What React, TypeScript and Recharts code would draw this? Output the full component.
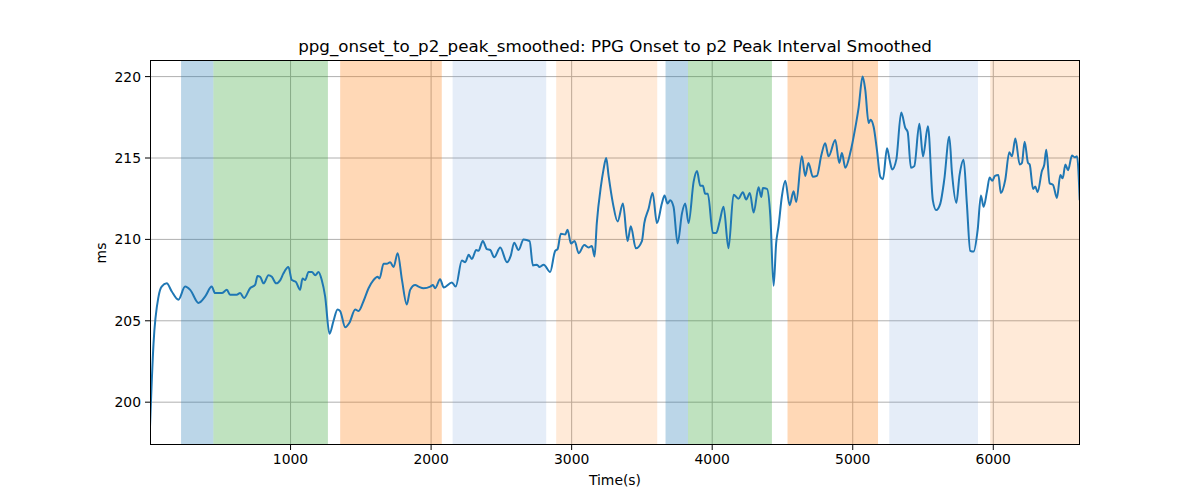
import { LineChart, Line, XAxis, YAxis, CartesianGrid, ReferenceArea } from "recharts";

// time axis (s) and smoothed onset->p2 interval (ms)
const times = [
  0, 25, 61, 83, 119, 155, 202, 250, 286, 345, 393, 439, 463, 511, 547, 570, 617, 641, 669, 712,
  748, 765, 784, 808, 843, 867, 898, 927, 949, 985, 1009, 1037, 1068, 1085, 1104, 1128, 1152, 1176, 1199, 1222,
  1246, 1277, 1306, 1334, 1353, 1389, 1420, 1460, 1484, 1519, 1555, 1590, 1619, 1633, 1662, 1685, 1709, 1733, 1762, 1793,
  1827, 1851, 1887, 1911, 1946, 1994, 2013, 2029, 2064, 2090, 2148, 2175, 2219, 2243, 2267, 2290, 2321, 2337, 2368, 2397,
  2421, 2449, 2492, 2540, 2567, 2591, 2622, 2658, 2701, 2724, 2753, 2772, 2801, 2847, 2883, 2900, 2923, 2954, 2971, 2995,
  3021, 3050, 3090, 3120, 3144, 3163, 3179, 3208, 3227, 3246, 3263, 3294, 3327, 3365, 3398, 3421, 3457, 3500, 3517, 3548,
  3576, 3607, 3642, 3661, 3682, 3701, 3725, 3754, 3785, 3808, 3832, 3868, 3892, 3915, 3934, 3950, 3969, 4005, 4029, 4053,
  4081, 4116, 4152, 4187, 4218, 4242, 4268, 4295, 4330, 4349, 4361, 4390, 4414, 4437, 4455, 4472, 4496, 4520, 4551, 4579,
  4598, 4638, 4662, 4685, 4716, 4745, 4776, 4804, 4828, 4876, 4904, 4923, 4947, 4982, 5018, 5042, 5070, 5089, 5113, 5127,
  5149, 5172, 5196, 5215, 5244, 5262, 5281, 5310, 5345, 5374, 5391, 5414, 5438, 5474, 5500, 5535, 5570, 5594, 5623, 5651,
  5687, 5706, 5737, 5760, 5789, 5812, 5836, 5860, 5889, 5912, 5931, 5955, 5974, 5993, 6012, 6036, 6054, 6085, 6114, 6133,
  6157, 6188, 6204, 6223, 6247, 6259, 6283, 6299, 6315, 6346, 6363, 6377, 6401, 6425, 6453, 6477, 6494, 6513, 6532, 6560,
  6579, 6596, 6615,
];

const values = [
  198.5, 203.6, 206.5, 207.1, 207.3, 206.8, 206.3, 207.1, 206.9, 206.1, 206.5, 207.1, 206.7, 206.7, 206.9, 206.6, 206.6, 206.7, 206.4, 207.0,
  207.2, 207.75, 207.7, 207.3, 207.8, 207.7, 207.3, 207.5, 207.9, 208.3, 207.5, 207.4, 206.9, 207.6, 207.5, 208.0, 208.0, 207.8, 208.0, 207.5,
  206.5, 204.2, 205.0, 205.7, 205.6, 204.6, 204.9, 205.7, 205.6, 206.2, 207.0, 207.5, 207.7, 207.6, 208.5, 208.5, 208.6, 208.3, 209.15, 207.5,
  206.0, 206.9, 207.2, 207.1, 207.0, 207.1, 207.2, 207.0, 207.55, 207.05, 207.35, 207.1, 208.7, 208.6, 209.05, 208.8, 209.35, 209.3, 209.9, 209.4,
  209.35, 208.9, 209.5, 208.6, 209.0, 209.8, 209.35, 210.0, 209.9, 208.4, 208.45, 208.3, 208.45, 208.0, 209.3, 209.4, 210.35, 210.3, 210.6, 209.75,
  209.9, 209.15, 209.65, 209.5, 209.6, 208.95, 211.0, 213.25, 214.3, 215.0, 213.9, 212.2, 211.1, 212.2, 209.9, 210.8, 209.45, 209.9, 211.0, 211.9,
  212.85, 211.0, 212.2, 212.7, 212.2, 212.4, 212.0, 209.75, 211.6, 212.2, 211.0, 213.55, 214.2, 213.3, 213.3, 212.8, 212.8, 210.4, 210.4, 211.1,
  212.0, 209.45, 212.75, 212.5, 212.9, 212.45, 212.85, 211.65, 213.2, 212.6, 213.15, 213.1, 211.4, 207.15, 209.75, 210.8, 212.65, 213.6, 212.1, 212.95,
  212.3, 215.1, 213.9, 214.7, 213.85, 213.9, 215.15, 215.9, 215.1, 216.1, 214.7, 215.3, 214.4, 215.3, 216.85, 218.1, 220.0, 219.2, 217.15, 217.35,
  216.9, 215.5, 213.85, 213.7, 215.6, 214.9, 214.3, 214.9, 217.8, 216.85, 216.6, 214.4, 214.5, 217.1, 215.1, 216.95, 212.4, 211.8, 212.2, 213.65,
  216.3, 214.1, 212.25, 213.95, 214.9, 212.2, 209.3, 209.25, 210.6, 212.7, 212.0, 212.95, 213.8, 213.6, 213.9, 213.95, 212.85, 213.65, 215.35, 215.1,
  216.2, 214.6, 214.7, 216.0, 214.7, 214.6, 213.1, 213.25, 212.9, 214.2, 214.6, 215.5, 213.45, 213.35, 212.55, 213.95, 213.75, 214.6, 214.25, 215.15,
  215.05, 215.1, 212.4,
];

// shaded phases
const bandStarts = [221, 451, 1353, 2153, 2890, 3668, 3828, 4536, 5260, 5978];
const bandEnds = [451, 1266, 2076, 2819, 3609, 3828, 4425, 5180, 5891, 6617];
const bandKinds = ["blue", "green", "orange", "paleBlue", "paleOrange", "blue", "green", "orange", "paleBlue", "paleOrange"];

const xTicks = [1000, 2000, 3000, 4000, 5000, 6000];
const yTicks = [200, 205, 210, 215, 220];

const BAND_STYLE: Record<string, { fill: string; opacity: number }> = {
  blue: { fill: "#1f77b4", opacity: 0.3 },
  green: { fill: "#2ca02c", opacity: 0.3 },
  orange: { fill: "#ff7f0e", opacity: 0.3 },
  paleBlue: { fill: "#6f9bd8", opacity: 0.18 },
  paleOrange: { fill: "#ff7f0e", opacity: 0.16 },
};

const data = times.map((t, i) => ({ t, v: values[i] }));

const FONT = "'DejaVu Sans', sans-serif";
const tickStyle = { fill: "#000", fontSize: 13.9, fontFamily: FONT };

export default function App() {
  return (
    <div style={{ position: "absolute", left: 0, top: 0, width: 1200, height: 500, background: "#fff", fontFamily: FONT }}>
      <LineChart width={1200} height={500} data={data} margin={{ top: 60, right: 120, bottom: 25, left: 90 }}>
        {bandStarts.map((s, i) => (
          <ReferenceArea
            key={i}
            x1={s}
            x2={bandEnds[i]}
            fill={BAND_STYLE[bandKinds[i]].fill}
            fillOpacity={BAND_STYLE[bandKinds[i]].opacity}
            stroke="none"
            ifOverflow="hidden"
          />
        ))}
        <CartesianGrid stroke="#b0b0b0" strokeWidth={1} verticalValues={xTicks} horizontalValues={yTicks} />
        <XAxis
          dataKey="t"
          type="number"
          domain={[0, 6617]}
          ticks={xTicks}
          allowDataOverflow
          axisLine={false}
          tickLine={{ stroke: "#000" }}
          tickSize={5}
          tickMargin={4}
          height={30}
          tick={tickStyle}
        />
        <YAxis
          type="number"
          domain={[197.37, 221.02]}
          ticks={yTicks}
          allowDataOverflow
          axisLine={false}
          tickLine={{ stroke: "#000" }}
          tickSize={5}
          tickMargin={4}
          width={60}
          tick={tickStyle}
        />
        <Line
          dataKey="v"
          type="monotone"
          stroke="#1f77b4"
          strokeWidth={2}
          dot={false}
          isAnimationActive={false}
        />
      </LineChart>
      <div
        style={{
          position: "absolute",
          left: 150,
          top: 60,
          width: 930,
          height: 385,
          border: "1px solid #000",
          boxSizing: "border-box",
          pointerEvents: "none",
        }}
      />
      <div style={{ position: "absolute", left: 150, width: 930, top: 36, textAlign: "center", fontSize: 16.7, lineHeight: "20px", color: "#000" }}>
        ppg_onset_to_p2_peak_smoothed: PPG Onset to p2 Peak Interval Smoothed
      </div>
      <div style={{ position: "absolute", left: 150, width: 930, top: 472, textAlign: "center", fontSize: 13.9, lineHeight: "17px", color: "#000" }}>
        Time(s)
      </div>
      <div
        style={{
          position: "absolute",
          left: 101,
          top: 253,
          transform: "translate(-50%, -50%) rotate(-90deg)",
          fontSize: 13.9,
          lineHeight: "17px",
          color: "#000",
        }}
      >
        ms
      </div>
    </div>
  );
}
